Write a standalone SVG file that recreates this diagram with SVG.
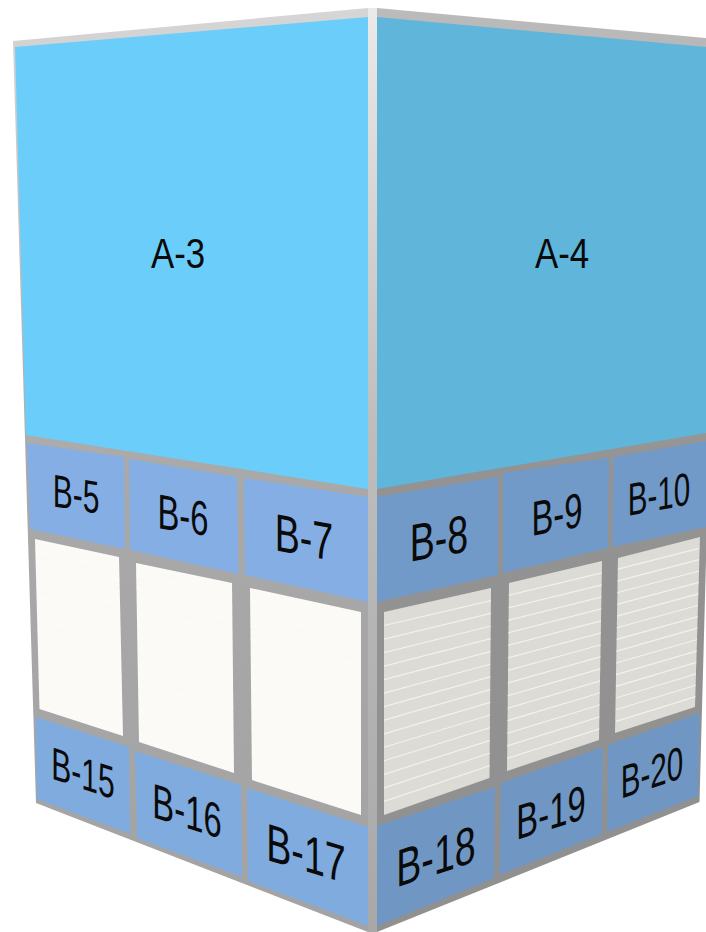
<svg xmlns="http://www.w3.org/2000/svg" width="706" height="932" viewBox="0 0 706 932">
<style>
text{font-family:"Liberation Sans",Arial,sans-serif;font-size:40px;fill:#0a0a0a;text-anchor:middle}
.pl{fill:#85AFE4}.pr{fill:#729AC8}.bl{fill:#80ABDF}.br{fill:#7097C4}
.wl{fill:#FCFAF6}.wr{fill:#DDDBD6}
.ll{fill:none;stroke:#fff;stroke-width:1;opacity:.55}.lr{fill:none;stroke:#F3F1ED;stroke-width:1.2}
</style>
<defs>
<linearGradient id="gl" x1="0" y1="0" x2="0" y2="1"><stop offset="0" stop-color="#D6D6D6"/><stop offset=".5" stop-color="#A9A9A9"/><stop offset="1" stop-color="#A3A3A3"/></linearGradient>
<linearGradient id="gr" x1="0" y1="0" x2="0" y2="1"><stop offset="0" stop-color="#BBBBBB"/><stop offset=".5" stop-color="#939393"/><stop offset="1" stop-color="#909090"/></linearGradient>
<linearGradient id="post" x1="0" y1="0" x2="0" y2="1"><stop offset="0" stop-color="#EAEAEA"/><stop offset=".45" stop-color="#BEBEBE"/><stop offset="1" stop-color="#A8A8A8"/></linearGradient>
<clipPath id="c1"><polygon points="35,539 119,557 123,736 39.5,709"/></clipPath>
<clipPath id="c2"><polygon points="136,563 232,583 234,773 139,742"/></clipPath>
<clipPath id="c3"><polygon points="250,588 361,612 361,815 252,780"/></clipPath>
<clipPath id="c8"><polygon points="384,612 491,588 489.5,778 384,815"/></clipPath>
<clipPath id="c9"><polygon points="509,583 602,561 599,740 507,771"/></clipPath>
<clipPath id="c10"><polygon points="618,558 700,537 695,707 615,733"/></clipPath>
</defs>
<rect width="706" height="932" fill="#fff"/>
<g id="frame">
<polygon points="13,41 368,8 368,932 36,803" fill="url(#gl)"/>
<polygon points="377,8 706,38 706,560 699.5,802 377,932" fill="url(#gr)"/>
<rect x="368" y="8" width="9" height="924" fill="url(#post)"/>
</g>
<g id="A-3"><polygon points="15,47 368,17 368,489 26,435" fill="#6BCEFA"/><text transform="matrix(.87 0 0 1.08 178 268)">A-3</text></g>
<g id="A-4"><polygon points="377,17 706,47 706,433 377,489" fill="#5FB5DA"/><text transform="matrix(.87 0 0 1.08 562 268)">A-4</text></g>
<g id="B-5"><polygon class="pl" points="27,443 124,457 125,549 30,529"/><text transform="matrix(.75 .12 0 1.15 76 494) translate(0 -14) translate(0 28)">B-5</text></g>
<g id="B-6"><polygon class="pl" points="129,459 237,477 238.5,574 130,550"/><text transform="matrix(.82 .13 0 1.22 183 515) translate(0 14)">B-6</text></g>
<g id="B-7"><polygon class="pl" points="244,478 368,497 368,602 245,575"/><text transform="matrix(.94 .17 0 1.32 304 537) translate(0 14)">B-7</text></g>
<g id="B-8"><polygon class="pr" points="377,497 498,477 498,575 377,602"/><text transform="matrix(.94 -.17 0 1.32 439 538) translate(0 14)">B-8</text></g>
<g id="B-9"><polygon class="pr" points="503,473 609,458 608,548 503,573"/><text transform="matrix(.82 -.16 0 1.22 557 514) translate(0 14)">B-9</text></g>
<g id="B-10"><polygon class="pr" points="613.5,457 706,441 706,527 612.5,547"/><text transform="matrix(.74 -.14 0 1.15 659 494) translate(0 14)">B-10</text></g>
<g id="W-1"><polygon class="wl" points="35,539 119,557 123,736 39.5,709"/><path class="ll" clip-path="url(#c1)" d="M30 550.3L125 568.9M30 561.7L125 580.9M30 573L125 592.8M30 584.3L125 604.7M30 595.7L125 616.7M30 607L125 628.6M30 618.3L125 640.5M30 629.6L125 652.4M30 641L125 664.4M30 652.3L125 676.3M30 663.6L125 688.2M30 675L125 700.2M30 686.3L125 712.1M30 697.6L125 724"/></g>
<g id="W-2"><polygon class="wl" points="136,563 232,583 234,773 139,742"/><path class="ll" clip-path="url(#c2)" d="M130 574.9L240 595.7M130 586.9L240 608.3M130 598.8L240 621M130 610.7L240 633.7M130 622.7L240 646.4M130 634.6L240 659M130 646.5L240 671.7M130 658.4L240 684.4M130 670.4L240 697M130 682.3L240 709.7M130 694.2L240 722.4M130 706.2L240 735M130 718.1L240 747.7M130 730L240 760.4"/></g>
<g id="W-3"><polygon class="wl" points="250,588 361,612 361,815 252,780"/><path class="ll" clip-path="url(#c3)" d="M250 600.8L361 625.5M250 613.6L361 639.1M250 626.4L361 652.6M250 639.2L361 666.1M250 652L361 679.7M250 664.8L361 693.2M250 677.6L361 706.7M250 690.4L361 720.2M250 703.2L361 733.8M250 716L361 747.3M250 728.8L361 760.8M250 741.6L361 774.4M250 754.4L361 787.9M250 767.2L361 801.4"/></g>
<g id="W-8"><polygon class="wr" points="384,612 491,588 489.5,778 384,815"/><path class="lr" clip-path="url(#c8)" d="M384 625.5L491 600.7M384 639.1L491 613.3M384 652.6L491 626M384 666.1L491 638.7M384 679.7L491 651.4M384 693.2L491 664M384 706.7L491 676.7M384 720.2L491 689.4M384 733.8L491 702M384 747.3L491 714.7M384 760.8L491 727.4M384 774.4L491 740M384 787.9L491 752.7M384 801.4L491 765.4"/></g>
<g id="W-9"><polygon class="wr" points="509,583 602,561 599,740 507,771"/><path class="lr" clip-path="url(#c9)" d="M507 595.5L602 572.9M507 608.1L602 584.9M507 620.6L602 596.8M507 633.1L602 608.7M507 645.7L602 620.7M507 658.2L602 632.6M507 670.7L602 644.5M507 683.2L602 656.4M507 695.8L602 668.4M507 708.3L602 680.3M507 720.8L602 692.2M507 733.4L602 704.2M507 745.9L602 716.1M507 758.4L602 728"/></g>
<g id="W-10"><polygon class="wr" points="618,558 700,537 695,707 615,733"/><path class="lr" clip-path="url(#c10)" d="M616 569.7L699 548.3M616 581.3L699 559.7M616 593L699 571M616 604.7L699 582.3M616 616.4L699 593.7M616 628L699 605M616 639.7L699 616.3M616 651.4L699 627.6M616 663L699 639M616 674.7L699 650.3M616 686.4L699 661.6M616 698L699 673M616 709.7L699 684.3M616 721.4L699 695.6"/></g>
<g id="B-15"><polygon class="bl" points="35.5,717 129,747 130,834 37,799"/><text transform="matrix(.75 .25 0 1.15 83 773) translate(0 14)">B-15</text></g>
<g id="B-16"><polygon class="bl" points="135,751 241,785 242,877 137,838"/><text transform="matrix(.82 .26 0 1.22 187 811) translate(0 14)">B-16</text></g>
<g id="B-17"><polygon class="bl" points="247,788 368,827 368,926 248,881"/><text transform="matrix(.94 .28 0 1.32 306 853) translate(0 14)">B-17</text></g>
<g id="B-18"><polygon class="br" points="377,826 495,787 494,878 377,926"/><text transform="matrix(.94 -.31 0 1.32 436 856) translate(0 14)">B-18</text></g>
<g id="B-19"><polygon class="br" points="501,783 603,747 602,834 499.5,875"/><text transform="matrix(.82 -.26 0 1.22 551 812) translate(0 14)">B-19</text></g>
<g id="B-20"><polygon class="br" points="608,745 700,713 698,796 607,832"/><text transform="matrix(.74 -.25 0 1.15 652 772) translate(0 14)">B-20</text></g>
</svg>
